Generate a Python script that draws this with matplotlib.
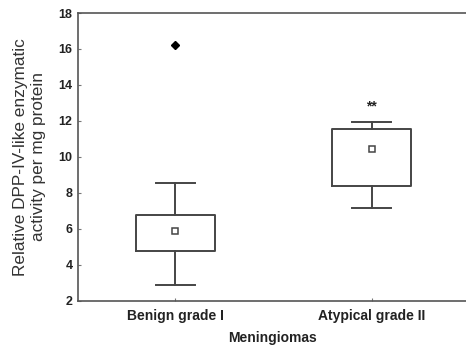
import numpy as np
import matplotlib.pyplot as plt

plt.rcParams['font.family'] = ['Liberation Sans', 'DejaVu Sans']

# box summaries per tumour group
groups = ['Benign grade I', 'Atypical grade II']
whisk_lo = [2.89, 7.15]
q1 = [4.79, 8.39]
means = [5.89, 10.43]
q3 = [6.78, 11.54]
whisk_hi = [8.57, 11.94]
outliers = [[16.2], []]
signif = ['', '**']

stats = []
for i in range(len(groups)):
    stats.append(dict(label=groups[i], whislo=whisk_lo[i], q1=q1[i], med=means[i],
                      mean=means[i], q3=q3[i], whishi=whisk_hi[i], fliers=outliers[i]))

line_c = '#454545'
fig = plt.figure(figsize=(4.66, 3.47), dpi=100)
ax = fig.add_axes([0.1674, 0.1334, 0.8326, 0.8291])

pos = np.arange(len(groups))
ax.bxp(stats, positions=pos, widths=0.40, showmeans=True,
       boxprops=dict(color=line_c, linewidth=1.4),
       whiskerprops=dict(color=line_c, linewidth=1.4),
       capprops=dict(color=line_c, linewidth=1.4),
       capwidths=0.20,
       medianprops=dict(linestyle='none'),
       meanprops=dict(marker='s', markersize=4.5, markerfacecolor='white',
                      markeredgecolor=line_c, markeredgewidth=1.1),
       flierprops=dict(marker='D', markersize=4, markerfacecolor='black',
                       markeredgecolor='black'))

for i, s in enumerate(signif):
    if s:
        ax.text(pos[i], whisk_hi[i] + 0.5, s, ha='center', va='bottom',
                fontsize=10, fontweight='bold', color='#222222')

ax.set_xlim(-0.495, 1.48)
ax.set_ylim(2, 18)
ax.set_yticks(np.arange(2, 19, 2))
ax.set_xticks(pos)
ax.set_xticklabels(groups, fontsize=10, fontweight='bold', color='#222222')
ax.tick_params(axis='y', direction='in', length=2, width=0.8, color='#777777',
               labelsize=9, labelcolor='#222222', pad=4)
ax.tick_params(axis='x', direction='in', length=2, width=0.8, color='#777777', pad=6)
for lab in ax.get_yticklabels():
    lab.set_fontweight('bold')

ax.spines['right'].set_visible(False)
for side in ['top', 'bottom', 'left']:
    ax.spines[side].set_color('#555555')
    ax.spines[side].set_linewidth(1.2)

ax.set_ylabel('Relative DPP-IV-like enzymatic\nactivity per mg protein', fontsize=12.4,
              color='#333333', labelpad=9, linespacing=1.25)
ax.set_xlabel('Meningiomas', fontsize=10, fontweight='bold', color='#222222', labelpad=6)

fig.savefig('out.png', dpi=100)
